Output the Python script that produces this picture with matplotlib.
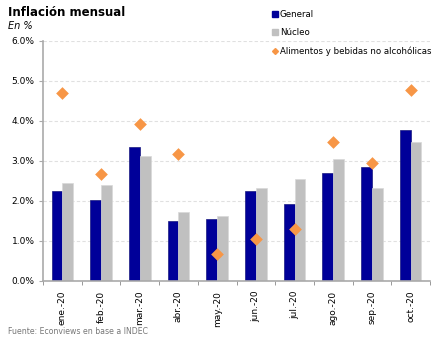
import numpy as np
import matplotlib.pyplot as plt
from matplotlib.lines import Line2D

OUTFILE = "out.png"

MESES = ['ene.-20', 'feb.-20', 'mar.-20', 'abr.-20', 'may.-20',
         'jun.-20', 'jul.-20', 'ago.-20', 'sep.-20', 'oct.-20']
GENERAL = [2.25, 2.02, 3.34, 1.49, 1.55, 2.25, 1.93, 2.70, 2.84, 3.77]
NUCLEO = [2.44, 2.39, 3.12, 1.72, 1.62, 2.32, 2.54, 3.04, 2.32, 3.47]
ALIMENTOS = [4.69, 2.67, 3.93, 3.17, 0.68, 1.04, 1.29, 3.47, 2.96, 4.77]
Y_TICKS = [0, 1, 2, 3, 4, 5, 6]

BLUE = '#000099'
GRAY = '#c0c0c0'
ORANGE = '#f79646'
BAR_W = 0.28

fig = plt.figure(figsize=(4.43, 3.40), dpi=100)
ax = fig.add_axes([43 / 443, 1 - 281 / 340, 387 / 443, 240 / 340])

x = np.arange(len(MESES))
ax.bar(x - BAR_W / 2, GENERAL, BAR_W, color=BLUE, edgecolor='#1a1a80', lw=0.5, zorder=2)
ax.bar(x + BAR_W / 2, NUCLEO, BAR_W, color=GRAY, edgecolor='#d8d8d8', lw=0.5, zorder=2)
ax.scatter(x, ALIMENTOS, marker='D', s=42, color=ORANGE, lw=0, zorder=3)

ax.set_xlim(-0.5, len(MESES) - 0.5)
ax.set_ylim(0, 6)
ax.set_yticks(Y_TICKS)
ax.set_yticklabels([f'{v:.1f}%' for v in Y_TICKS], fontsize=6.5)
ax.yaxis.grid(True, ls=(0, (3, 2)), color='#e0e0e0', lw=0.8, zorder=0)

ax.set_xticks(x)
ax.set_xticklabels(MESES, rotation=90, fontsize=6.5)
ax.tick_params(axis='x', length=0, pad=7)
ax.set_xticks(np.arange(-0.5, len(MESES)), minor=True)
ax.tick_params(axis='x', which='minor', length=3, color='#888888')
ax.tick_params(axis='y', length=3, color='#aaaaaa', pad=3)

for side in ['top', 'right']:
    ax.spines[side].set_visible(False)
ax.spines['left'].set_color('#aaaaaa')
ax.spines['left'].set_linewidth(1.2)
ax.spines['bottom'].set_color('#aaaaaa')
ax.spines['bottom'].set_linewidth(1.2)

fig.text(8 / 443, 1 - 13 / 340, 'Inflación mensual', fontsize=8.5, fontweight='bold',
         va='center', ha='left')
fig.text(8 / 443, 1 - 26 / 340, 'En %', fontsize=7, style='italic', va='center', ha='left')
fig.text(8 / 443, 1 - 331 / 340, 'Fuente: Econviews en base a INDEC', fontsize=5.6,
         color='#777777', va='center', ha='left')

handles = [
    Line2D([], [], marker='s', ls='', color=BLUE, markersize=4),
    Line2D([], [], marker='s', ls='', color=GRAY, markersize=4),
    Line2D([], [], marker='D', ls='', color=ORANGE, markersize=3),
]
fig.legend(handles, ['General', 'Núcleo', 'Alimentos y bebidas no alcohólicas'],
           loc='upper left', bbox_to_anchor=(272 / 443, 1 - 10 / 340), frameon=False,
           fontsize=6.2, handlelength=0.6, handletextpad=0.3, labelspacing=1.1,
           borderpad=0, borderaxespad=0)

fig.savefig(OUTFILE, dpi=100)
